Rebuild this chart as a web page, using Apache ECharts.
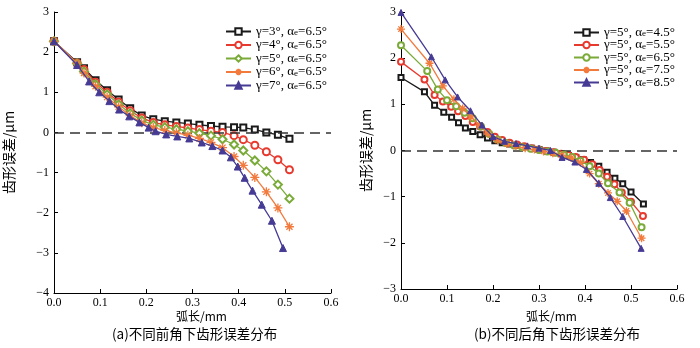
<!DOCTYPE html>
<html><head><meta charset="utf-8">
<script src="https://cdn.jsdelivr.net/npm/echarts@6/dist/echarts.min.js"></script>
<style>html,body{margin:0;padding:0;background:#fff}#c{width:700px;height:348px}</style>
</head><body><div id="c"></div>
<script>
// ---------- data: chart (a) different rake angle γ, αe = 6.5° ----------
const gammaA = [3, 4, 5, 6, 7];
const alphaA = 6.5;
const xA = [0, 0.05, 0.065, 0.09, 0.115, 0.14, 0.165, 0.19, 0.215, 0.24, 0.265, 0.29, 0.315, 0.34, 0.365, 0.39, 0.41, 0.435, 0.46, 0.485, 0.51];
const yA3 = [2.27, 1.75, 1.6, 1.3, 1.05, 0.82, 0.6, 0.42, 0.33, 0.28, 0.25, 0.22, 0.19, 0.16, 0.14, 0.13, 0.12, 0.07, 0.0, -0.06, -0.16];
const yA4 = [2.27, 1.73, 1.57, 1.25, 1.0, 0.76, 0.54, 0.36, 0.25, 0.19, 0.15, 0.11, 0.07, 0.03, 0.0, -0.08, -0.18, -0.32, -0.48, -0.68, -0.93];
const yA5 = [2.27, 1.72, 1.52, 1.2, 0.95, 0.7, 0.48, 0.3, 0.19, 0.13, 0.08, 0.03, -0.02, -0.08, -0.17, -0.3, -0.45, -0.7, -0.97, -1.3, -1.65];
const yA6 = [2.27, 1.72, 1.48, 1.15, 0.88, 0.64, 0.42, 0.24, 0.12, 0.05, -0.01, -0.07, -0.15, -0.25, -0.38, -0.6, -0.82, -1.12, -1.48, -1.88, -2.35];
const xA7 = [0, 0.05, 0.076, 0.098, 0.12, 0.141, 0.163, 0.185, 0.205, 0.22, 0.243, 0.267, 0.293, 0.32, 0.343, 0.365, 0.383, 0.398, 0.413, 0.43, 0.45, 0.472, 0.496];
const yA7 = [2.27, 1.68, 1.27, 1.0, 0.78, 0.57, 0.4, 0.25, 0.12, 0.03, -0.05, -0.1, -0.15, -0.25, -0.34, -0.45, -0.62, -0.85, -1.13, -1.45, -1.8, -2.2, -2.88];

// ---------- data: chart (b) different clearance angle αe, γ = 5° ----------
const gammaB = 5;
const alphaB = [4.5, 5.5, 6.5, 7.5, 8.5];
const xB1 = [0, 0.051, 0.073, 0.093, 0.11, 0.125, 0.14, 0.156, 0.172, 0.188, 0.204, 0.22, 0.236, 0.252, 0.268, 0.284, 0.3, 0.316, 0.332, 0.348, 0.364, 0.38, 0.396, 0.412, 0.43, 0.448, 0.465, 0.482, 0.5, 0.527];
const yB1 = [1.58, 1.27, 0.98, 0.83, 0.72, 0.6, 0.49, 0.41, 0.34, 0.27, 0.21, 0.17, 0.14, 0.11, 0.08, 0.05, 0.02, -0.01, -0.04, -0.07, -0.11, -0.15, -0.2, -0.26, -0.34, -0.47, -0.6, -0.72, -0.9, -1.16];
const xB2 = [0, 0.051, 0.073, 0.091, 0.109, 0.124, 0.14, 0.156, 0.172, 0.188, 0.204, 0.22, 0.236, 0.252, 0.268, 0.284, 0.3, 0.316, 0.332, 0.348, 0.364, 0.38, 0.398, 0.416, 0.432, 0.448, 0.464, 0.48, 0.5, 0.526];
const yB2 = [1.92, 1.54, 1.2, 1.06, 0.95, 0.85, 0.75, 0.62, 0.52, 0.4, 0.3, 0.23, 0.17, 0.13, 0.09, 0.05, 0.02, -0.01, -0.04, -0.07, -0.1, -0.14, -0.2, -0.3, -0.42, -0.57, -0.73, -0.91, -1.11, -1.42];
const xB3 = [0, 0.057, 0.08, 0.1, 0.12, 0.138, 0.156, 0.174, 0.192, 0.21, 0.228, 0.246, 0.264, 0.282, 0.3, 0.318, 0.336, 0.354, 0.372, 0.39, 0.41, 0.43, 0.45, 0.475, 0.497, 0.523];
const yB3 = [2.28, 1.72, 1.32, 1.09, 0.96, 0.82, 0.7, 0.52, 0.36, 0.24, 0.16, 0.11, 0.07, 0.04, 0.01, -0.02, -0.05, -0.09, -0.14, -0.22, -0.34, -0.5, -0.71, -0.91, -1.13, -1.66];
const xB4 = [0, 0.062, 0.091, 0.115, 0.134, 0.152, 0.17, 0.19, 0.21, 0.23, 0.25, 0.27, 0.29, 0.31, 0.33, 0.35, 0.37, 0.39, 0.41, 0.43, 0.45, 0.47, 0.49, 0.523];
const yB4 = [2.63, 1.89, 1.4, 1.11, 0.91, 0.73, 0.55, 0.36, 0.22, 0.14, 0.09, 0.05, 0.02, -0.02, -0.06, -0.1, -0.16, -0.26, -0.5, -0.72, -0.92, -1.1, -1.31, -1.9];
const xB5 = [0, 0.066, 0.096, 0.123, 0.151, 0.176, 0.2, 0.225, 0.25, 0.275, 0.3, 0.325, 0.35, 0.378, 0.403, 0.43, 0.455, 0.482, 0.522];
const yB5 = [2.99, 2.03, 1.53, 1.16, 0.86, 0.55, 0.3, 0.2, 0.15, 0.1, 0.05, 0.0, -0.15, -0.25, -0.41, -0.71, -1.02, -1.43, -2.12];

const xTicks = ['0.0', '0.1', '0.2', '0.3', '0.4', '0.5', '0.6'];
const xTitle = '弧长/mm';
const yTitle = '齿形误差/μm';
const captionA = '(a)不同前角下齿形误差分布';
const captionB = '(b)不同后角下齿形误差分布';

// ---------- styling ----------
const SERIF = "'Liberation Serif', 'Times New Roman', 'Noto Sans CJK SC', serif";
const CJK = "'Noto Sans CJK SC', 'Liberation Serif', sans-serif";
const colors = ['#1a1a1a', '#e8392e', '#7aab39', '#f27a3c', '#463b94'];
const ASTER = 'path://M5,0L5,10M0,5L10,5M1.6,1.6L8.4,8.4M1.6,8.4L8.4,1.6';

function pairs(xs, ys) { return xs.map((x, i) => [x, ys[i]]); }

const namesA = gammaA.map(g => 'A|γ=' + g + '°|' + alphaA + '°');
const namesB = alphaB.map(a => 'B|γ=' + gammaB + '°|' + a + '°');

function symbolFor(i, panel) {
  const d = panel === 'A' ? 0 : -1;
  if (i === 0) return { symbol: 'emptyRect', symbolSize: 6 + d, bw: 1.7 };
  if (i === 1) return { symbol: 'emptyCircle', symbolSize: 7 + d, bw: 1.2 };
  if (i === 2) return panel === 'A' ? { symbol: 'emptyDiamond', symbolSize: 8, bw: 1.2 } : { symbol: 'emptyCircle', symbolSize: 7 + d, bw: 1.2 };
  if (i === 3) return { symbol: ASTER, symbolSize: 9 + d, bw: 1.3 };
  return { symbol: 'triangle', symbolSize: 7 + d, bw: 1 };
}

function makeSeries(name, i, panel, data, grid) {
  const s = symbolFor(i, panel);
  const o = {
    name: name, type: 'line', xAxisIndex: grid, yAxisIndex: grid, data: data,
    symbol: s.symbol, symbolSize: s.symbolSize, showAllSymbol: true,
    lineStyle: { color: colors[i], width: 1.3 },
    itemStyle: { color: colors[i], borderColor: colors[i], borderWidth: s.bw },
    emphasis: { disabled: true }, animation: false, z: 3 + i
  };
  if (i === 0) {
    o.markLine = {
      silent: true, symbol: 'none', animation: false,
      lineStyle: { type: [10, 6], color: '#333', width: 1.5 },
      label: { show: false }, data: [{ yAxis: 0 }]
    };
  }
  return o;
}

const seriesA = [
  makeSeries(namesA[0], 0, 'A', pairs(xA, yA3), 0),
  makeSeries(namesA[1], 1, 'A', pairs(xA, yA4), 0),
  makeSeries(namesA[2], 2, 'A', pairs(xA, yA5), 0),
  makeSeries(namesA[3], 3, 'A', pairs(xA, yA6), 0),
  makeSeries(namesA[4], 4, 'A', pairs(xA7, yA7), 0)
];
const seriesB = [
  makeSeries(namesB[0], 0, 'B', pairs(xB1, yB1), 1),
  makeSeries(namesB[1], 1, 'B', pairs(xB2, yB2), 1),
  makeSeries(namesB[2], 2, 'B', pairs(xB3, yB3), 1),
  makeSeries(namesB[3], 3, 'B', pairs(xB4, yB4), 1),
  makeSeries(namesB[4], 4, 'B', pairs(xB5, yB5), 1)
];

function legendFmt(name) {
  const p = name.split('|');
  return '{t|' + p[1] + ', α}{s|e}{t|=' + p[2] + '}';
}
function legendRich(fs) {
  return {
    t: { fontFamily: SERIF, fontSize: fs, lineHeight: 12, color: '#000' },
    s: { fontFamily: SERIF, fontSize: 9, lineHeight: 6, verticalAlign: 'bottom', color: '#000' }
  };
}

function xAxisCfg(grid) {
  return {
    gridIndex: grid, type: 'value', min: 0, max: 0.6, interval: 0.1,
    axisLine: { show: true, onZero: false, lineStyle: { color: '#000', width: 1 } },
    axisTick: { show: true, inside: true, length: 4, lineStyle: { color: '#000' } },
    axisLabel: { formatter: v => xTicks[Math.round(v * 10)], fontFamily: SERIF, fontSize: 12, color: '#000', margin: 4 },
    splitLine: { show: false }
  };
}
function yAxisCfg(grid, min, max, gap) {
  return {
    gridIndex: grid, type: 'value', min: min, max: max, interval: 1,
    axisLine: { show: true, onZero: false, lineStyle: { color: '#000', width: 1 } },
    axisTick: { show: true, inside: true, length: 4, lineStyle: { color: '#000' } },
    axisLabel: { formatter: v => String(v).replace('-', '−'), fontFamily: SERIF, fontSize: 12, color: '#000', margin: 5 },
    splitLine: { show: false },
    name: yTitle, nameLocation: 'middle', nameRotate: 90, nameGap: gap,
    nameTextStyle: { fontFamily: CJK, fontSize: 14, color: '#000' }
  };
}

const chart = echarts.init(document.getElementById('c'), null, { renderer: 'canvas' });
chart.setOption({
  backgroundColor: '#fff',
  animation: false,
  grid: [
    { left: 54, top: 12, width: 277, height: 281 },
    { left: 401, top: 12, width: 276, height: 277 }
  ],
  xAxis: [xAxisCfg(0), xAxisCfg(1)],
  yAxis: [yAxisCfg(0, -4, 3, 38), yAxisCfg(1, -3, 3, 28)],
  legend: [
    { data: namesA, orient: 'vertical', left: 220, top: 20, itemWidth: 25, itemHeight: 8, itemGap: 0.5,
      formatter: legendFmt, textStyle: { rich: legendRich(13) }, selectedMode: false },
    { data: namesB, orient: 'vertical', left: 568, top: 21, itemWidth: 25, itemHeight: 8, itemGap: -0.5,
      formatter: legendFmt, textStyle: { rich: legendRich(13) }, selectedMode: false }
  ],
  graphic: [
    { type: 'text', left: 199 - 23, top: 310, style: { text: xTitle, font: "12px " + CJK, fill: '#000' } },
    { type: 'text', left: 549 - 23, top: 310, style: { text: xTitle, font: "12px " + CJK, fill: '#000' } },
    { type: 'text', left: 194 - 82, top: 327, style: { text: captionA, font: "13.5px " + CJK, fill: '#000' } },
    { type: 'text', left: 556 - 82, top: 327, style: { text: captionB, font: "13.5px " + CJK, fill: '#000' } }
  ],
  series: seriesA.concat(seriesB)
});
</script>
</body></html>
